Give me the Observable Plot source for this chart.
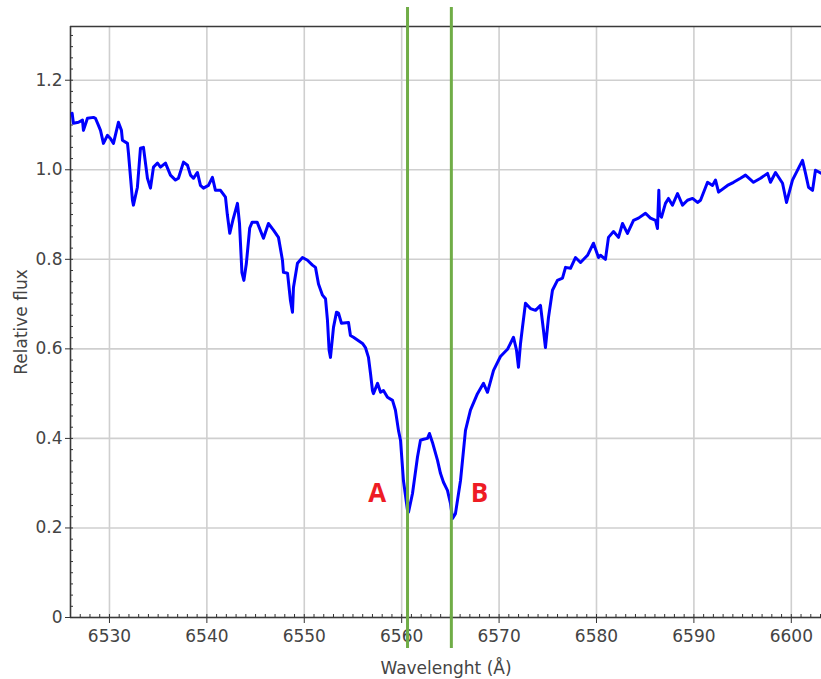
<!DOCTYPE html>
<html>
<head>
<meta charset="utf-8">
<script src="https://cdn.jsdelivr.net/npm/d3@7"></script>
<script src="https://cdn.jsdelivr.net/npm/@observablehq/plot@0.6"></script>
<style>
  html, body { margin: 0; padding: 0; background: #fff; }
  #chart svg { display: block; }
</style>
</head>
<body>
<div id="chart"></div>
<script>
// Wavelength (Å) and relative flux
const wavelength = [
  6526.17, 6526.30, 6526.82, 6527.23, 6527.33, 6527.74, 6528.36, 6528.56, 6528.87, 6529.08,
  6529.38, 6529.79, 6530.10, 6530.41, 6530.92, 6531.23, 6531.33, 6531.85, 6531.95, 6532.36,
  6532.46, 6532.87, 6533.18, 6533.49, 6533.90, 6534.21, 6534.52, 6534.93, 6535.24, 6535.75,
  6536.26, 6536.78, 6537.08, 6537.60, 6538.01, 6538.32, 6538.62, 6539.03, 6539.34, 6539.65,
  6540.16, 6540.57, 6540.88, 6541.40, 6541.91, 6542.10, 6542.35, 6542.70, 6543.14, 6543.35,
  6543.60, 6543.80, 6544.05, 6544.40, 6544.65, 6545.16, 6545.81, 6546.32, 6546.84, 6547.35,
  6547.76, 6547.86, 6548.28, 6548.58, 6548.79, 6548.89, 6549.30, 6549.82, 6550.33, 6550.84,
  6551.15, 6551.46, 6551.87, 6552.18, 6552.38, 6552.55, 6552.69, 6553.00, 6553.31, 6553.51,
  6553.82, 6554.54, 6554.74, 6555.05, 6555.98, 6556.28, 6556.59, 6556.80, 6557.00, 6557.10,
  6557.52, 6557.83, 6558.13, 6558.54, 6559.06, 6559.36, 6559.67, 6559.88, 6560.18, 6560.60,
  6560.70, 6561.11, 6561.62, 6561.93, 6562.24, 6562.65, 6562.85, 6563.16, 6563.68, 6563.98,
  6564.29, 6564.70, 6565.01, 6565.22, 6565.52, 6566.04, 6566.55, 6567.06, 6567.78, 6568.40,
  6568.81, 6569.43, 6570.14, 6570.86, 6571.48, 6571.79, 6571.99, 6572.20, 6572.40, 6572.71,
  6573.22, 6573.74, 6574.25, 6574.56, 6574.76, 6575.07, 6575.48, 6575.99, 6576.51, 6576.82,
  6577.33, 6577.84, 6578.36, 6579.08, 6579.69, 6580.21, 6580.41, 6580.92, 6581.23, 6581.75,
  6582.26, 6582.67, 6583.18, 6583.80, 6584.31, 6585.03, 6585.54, 6586.06, 6586.26, 6586.40,
  6586.47, 6586.67, 6587.08, 6587.39, 6587.80, 6588.32, 6588.83, 6589.34, 6589.86, 6590.37,
  6590.68, 6591.40, 6591.91, 6592.22, 6592.53, 6593.45, 6594.07, 6594.78, 6595.30, 6596.12,
  6596.84, 6597.56, 6597.86, 6598.38, 6599.10, 6599.51, 6600.12, 6601.15, 6601.46, 6601.77,
  6602.18, 6602.48, 6603.10
];
const flux = [
  1.126, 1.104, 1.106, 1.111, 1.088, 1.115, 1.117, 1.115, 1.099, 1.088,
  1.059, 1.077, 1.070, 1.059, 1.106, 1.088, 1.066, 1.059, 1.037, 0.932,
  0.921, 0.961, 1.048, 1.050, 0.981, 0.959, 1.006, 1.015, 1.006, 1.015,
  0.988, 0.977, 0.981, 1.017, 1.010, 0.988, 0.981, 0.994, 0.965, 0.959,
  0.965, 0.983, 0.954, 0.954, 0.939, 0.900, 0.858, 0.890, 0.925, 0.880,
  0.770, 0.753, 0.790, 0.870, 0.883, 0.883, 0.847, 0.880, 0.865, 0.849,
  0.798, 0.771, 0.769, 0.708, 0.682, 0.737, 0.791, 0.804, 0.798, 0.787,
  0.782, 0.745, 0.720, 0.712, 0.664, 0.597, 0.581, 0.648, 0.682, 0.680,
  0.657, 0.659, 0.630, 0.626, 0.612, 0.603, 0.581, 0.545, 0.507, 0.500,
  0.523, 0.503, 0.507, 0.492, 0.485, 0.463, 0.418, 0.396, 0.306, 0.239,
  0.235, 0.277, 0.358, 0.396, 0.398, 0.400, 0.411, 0.391, 0.351, 0.322,
  0.302, 0.284, 0.255, 0.221, 0.232, 0.306, 0.418, 0.463, 0.500, 0.523,
  0.503, 0.552, 0.583, 0.599, 0.626, 0.597, 0.559, 0.612, 0.648, 0.702,
  0.690, 0.686, 0.697, 0.641, 0.603, 0.670, 0.731, 0.753, 0.758, 0.782,
  0.780, 0.804, 0.793, 0.809, 0.836, 0.804, 0.809, 0.800, 0.849, 0.862,
  0.849, 0.880, 0.858, 0.887, 0.892, 0.903, 0.892, 0.887, 0.869, 0.954,
  0.900, 0.894, 0.925, 0.936, 0.921, 0.947, 0.921, 0.932, 0.936, 0.927,
  0.932, 0.972, 0.965, 0.977, 0.950, 0.965, 0.972, 0.981, 0.988, 0.972,
  0.981, 0.992, 0.972, 0.994, 0.970, 0.927, 0.977, 1.021, 0.992, 0.961,
  0.954, 0.999, 0.992
];

// Marker lines (green) and their labels
const markerWavelengths = [6560.6, 6565.1];
const labelNames = ["A", "B"];
const labelWavelengths = [6557.5, 6568.0];
const labelFlux = [0.277, 0.277];

// Axis ticks
const xMajorTicks = [6530, 6540, 6550, 6560, 6570, 6580, 6590, 6600];
const xMinorTicks = d3.range(6527, 6604, 1);
const yMajorTicks = [0, 0.2, 0.4, 0.6, 0.8, 1.0, 1.2];
const yMinorTicks = d3.range(0, 1.32, 0.025);
const xDomain = [6526, 6603.1];
const yDomain = [0, 1.32];

const spectrum = wavelength.map((w, i) => ({w, f: flux[i]}));
const labels = labelNames.map((n, i) => ({n, w: labelWavelengths[i], f: labelFlux[i]}));

const chart = Plot.plot({
  width: 821,
  height: 679,
  marginLeft: 70,
  marginRight: 0,
  marginTop: 26,
  marginBottom: 62,
  style: {fontFamily: "'DejaVu Sans', Verdana, sans-serif", fontSize: "17px", color: "#444", background: "#fff"},
  x: {domain: xDomain},
  y: {domain: yDomain},
  marks: [
    Plot.gridX(xMajorTicks, {stroke: "#cfcfcf", strokeOpacity: 1, strokeWidth: 1.6}),
    Plot.gridY(yMajorTicks, {stroke: "#cfcfcf", strokeOpacity: 1, strokeWidth: 1.6}),
    // frame lines: top, left, bottom
    Plot.ruleY([yDomain[1]], {stroke: "#3a3a3a", strokeWidth: 1.6}),
    Plot.ruleX([xDomain[0]], {stroke: "#3a3a3a", strokeWidth: 1.6}),
    Plot.ruleY([yDomain[0]], {stroke: "#3a3a3a", strokeWidth: 1.6}),
    // minor ticks (inward)
    Plot.axisX({ticks: xMinorTicks, tickSize: 3, dy: -3, text: null, label: null, stroke: "#333"}),
    Plot.axisY({ticks: yMinorTicks, tickSize: 3, dx: 3, text: null, label: null, stroke: "#333"}),
    // major ticks + labels
    Plot.axisX({
      ticks: xMajorTicks, tickSize: 5, tickPadding: 6, dy: 1,
      tickFormat: d => String(d), stroke: "#333", fill: "#444",
      label: "Wavelenght (Å)", labelAnchor: "center", labelArrow: "none", labelOffset: 56
    }),
    Plot.axisY({
      ticks: yMajorTicks, tickSize: 5, tickPadding: 3,
      tickFormat: d => d === 0 ? "0" : d.toFixed(1), stroke: "#333", fill: "#444",
      label: "Relative flux", labelAnchor: "center", labelArrow: "none", labelOffset: 56
    }),
    Plot.line(spectrum, {x: "w", y: "f", stroke: "#0000ff", strokeWidth: 3, strokeLinejoin: "round", strokeLinecap: "round"}),
    Plot.ruleX(markerWavelengths, {stroke: "#70ad47", strokeWidth: 3, insetTop: -19, insetBottom: -31}),
    Plot.text(labels, {x: "w", y: "f", text: "n", fill: "#ee1c24", fontWeight: "bold", fontSize: 26, fontFamily: "'Open Sans', sans-serif"})
  ]
});
document.getElementById("chart").appendChild(chart);
</script>
</body>
</html>
